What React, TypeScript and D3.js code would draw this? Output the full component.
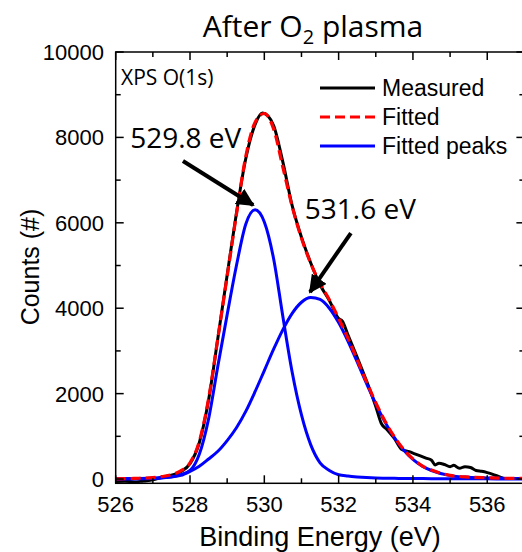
import * as d3 from 'd3';
import { useRef, useEffect } from 'react';

// binding energies (eV) for the fitted curves
const energy = [526, 526.5, 527, 527.25, 527.5, 527.75, 528, 528.25, 528.5, 528.75,
  529, 529.25, 529.5, 529.75, 530, 530.25, 530.5, 530.75, 531, 531.25,
  531.5, 531.75, 532, 532.25, 532.5, 532.75, 533, 533.25, 533.5, 533.75,
  534, 534.25, 534.5, 535, 535.5, 536, 536.5, 537];
const peak1 = [2, 3, 10, 25, 50, 105, 200, 580, 1410, 2650,
  3850, 5000, 5967, 6306, 6020, 5160, 3800, 2500, 1500, 800,
  380, 200, 100, 70, 50, 35, 25, 20, 16, 14,
  12, 10, 9, 6, 5, 4, 3, 3];
const peak2 = [5, 12, 25, 35, 50, 85, 180, 300, 470, 650,
  900, 1200, 1583, 2044, 2540, 3040, 3500, 3880, 4140, 4250,
  4205, 4000, 3663, 3231, 2743, 2240, 1761, 1333, 971, 680,
  460, 300, 200, 80, 40, 25, 15, 10];
const fitted = [5, 15, 35, 60, 100, 190, 380, 880, 1880, 3300,
  4750, 6200, 7550, 8350, 8560, 8200, 7300, 6380, 5640, 5050,
  4585, 4200, 3763, 3301, 2793, 2275, 1786, 1353, 987, 694,
  472, 310, 209, 86, 45, 29, 18, 13];

const measuredEnergy = [526, 526.25, 526.5, 526.75, 527, 527.25, 527.5, 527.75, 528, 528.25,
  528.5, 528.75, 529, 529.25, 529.5, 529.75, 529.95, 530.1, 530.25, 530.5,
  530.75, 531, 531.25, 531.5, 531.75, 532, 532.1, 532.25, 532.5, 532.75,
  532.9, 533, 533.15, 533.3, 533.5, 533.7, 533.9, 534.05, 534.2, 534.35,
  534.5, 534.6, 534.7, 534.85, 535, 535.1, 535.25, 535.4, 535.55, 535.7,
  535.85, 536, 536.15, 536.3, 536.45, 536.6, 537];
const measuredCounts = [-60, -50, -70, -45, -20, 40, 90, 170, 360, 850,
  1850, 3300, 4780, 6230, 7500, 8300, 8570, 8500, 8280, 7420,
  6400, 5660, 5060, 4550, 4180, 3760, 3700, 3380, 2850, 2300,
  1950, 1700, 1300, 1160, 950, 690, 640, 590, 540, 490,
  440, 330, 370, 340, 290, 320, 250, 290, 270, 200,
  180, 150, 110, 60, 15, 10, 10];

const xTicks = [526, 528, 530, 532, 534, 536];
const xMinor = [527, 529, 531, 533, 535, 537];
const yTicks = [0, 2000, 4000, 6000, 8000, 10000];
const yMinor = [1000, 3000, 5000, 7000, 9000];

const legendLabels = ['Measured', 'Fitted', 'Fitted peaks'];

const annotations = [
  { label: '529.8 eV', tx: 526.39, ty: 7752, x1: 527.81, y1: 7447, x2: 529.70, y2: 6417 },
  { label: '531.6 eV', tx: 531.09, ty: 6089, x1: 532.33, y1: 5761, x2: 531.23, y2: 4379 },
];

const App = () => {
  const svgRef = useRef(null);

  useEffect(() => {
    const svg = d3.select(svgRef.current);
    const width = 522;
    const height = 552;
    const left = 115.7, right = 524.4, top = 52, bottom = 483.3;
    svg.attr('width', width).attr('height', height);
    svg.selectAll('*').remove();

    const x = d3.scaleLinear().domain([526, 537]).range([left, right]);
    const y = d3.scaleLinear().domain([-100, 10000]).range([bottom, top]);
    const axisFont = "'Liberation Sans', Arial, sans-serif";
    const calFont = "'Open Sans', sans-serif";

    const line = d3.line().x(d => x(d[0])).y(d => y(d[1])).curve(d3.curveMonotoneX);

    svg.append('path')
      .attr('d', line(measuredEnergy.map((e, i) => [e, measuredCounts[i]])))
      .attr('fill', 'none').attr('stroke', '#000').attr('stroke-width', 3);

    [peak1, peak2].forEach(p => {
      svg.append('path')
        .attr('d', line(energy.map((e, i) => [e, p[i]])))
        .attr('fill', 'none').attr('stroke', '#0000ff').attr('stroke-width', 3);
    });

    svg.append('path')
      .attr('d', line(energy.map((e, i) => [e, fitted[i]])))
      .attr('fill', 'none').attr('stroke', '#ff0000').attr('stroke-width', 3.2)
      .attr('stroke-dasharray', '10 5');

    // frame
    svg.append('rect')
      .attr('x', left).attr('y', top)
      .attr('width', right - left).attr('height', bottom - top)
      .attr('fill', 'none').attr('stroke', '#000').attr('stroke-width', 1.5);

    const tickG = svg.append('g').attr('stroke', '#000').attr('stroke-width', 1.5);
    const addXTicks = (vals, len) => vals.forEach(v => {
      tickG.append('line').attr('x1', x(v)).attr('x2', x(v)).attr('y1', bottom).attr('y2', bottom - len);
      tickG.append('line').attr('x1', x(v)).attr('x2', x(v)).attr('y1', top).attr('y2', top + len);
    });
    const addYTicks = (vals, len) => vals.forEach(v => {
      tickG.append('line').attr('x1', left).attr('x2', left + len).attr('y1', y(v)).attr('y2', y(v));
      tickG.append('line').attr('x1', right).attr('x2', right - len).attr('y1', y(v)).attr('y2', y(v));
    });
    addXTicks(xTicks, 8);
    addXTicks(xMinor, 5);
    addYTicks(yTicks, 8);
    addYTicks(yMinor, 5);

    svg.selectAll('.xlab').data(xTicks).enter().append('text')
      .attr('x', d => x(d)).attr('y', 512)
      .attr('text-anchor', 'middle')
      .style('font-family', axisFont).style('font-size', '22px')
      .text(d => d);

    svg.selectAll('.ylab').data(yTicks).enter().append('text')
      .attr('x', 104).attr('y', d => y(d)).attr('dy', '0.36em')
      .attr('text-anchor', 'end')
      .style('font-family', axisFont).style('font-size', '22px')
      .text(d => d);

    svg.append('text')
      .attr('x', 320).attr('y', 546)
      .attr('text-anchor', 'middle')
      .style('font-family', axisFont).style('font-size', '27px')
      .text('Binding Energy (eV)');

    svg.append('text')
      .attr('transform', 'translate(39,267) rotate(-90)')
      .attr('text-anchor', 'middle')
      .style('font-family', axisFont).style('font-size', '25px')
      .text('Counts (#)');

    const title = svg.append('text')
      .attr('x', 313).attr('y', 37)
      .attr('text-anchor', 'middle')
      .style('font-family', calFont).style('font-size', '30px');
    title.append('tspan').text('After O');
    title.append('tspan').attr('dy', 7).style('font-size', '20px').text('2');
    title.append('tspan').attr('dy', -7).text(' plasma');

    svg.append('text')
      .attr('x', 121).attr('y', 85)
      .style('font-family', calFont).style('font-size', '21px')
      .text('XPS O(1s)');

    // legend
    const legend = svg.append('g');
    const legendStyles = [
      { stroke: '#000', dash: null },
      { stroke: '#ff0000', dash: '10 5' },
      { stroke: '#0000ff', dash: null },
    ];
    legendLabels.forEach((lab, i) => {
      const ly = 88 + i * 29;
      legend.append('line')
        .attr('x1', 320).attr('x2', 375).attr('y1', ly).attr('y2', ly)
        .attr('stroke', legendStyles[i].stroke).attr('stroke-width', 3)
        .attr('stroke-dasharray', legendStyles[i].dash);
      legend.append('text')
        .attr('x', 382).attr('y', ly + 8)
        .style('font-family', axisFont).style('font-size', '23px')
        .text(lab);
    });

    // annotations
    const defs = svg.append('defs');
    defs.append('marker')
      .attr('id', 'arrowhead')
      .attr('viewBox', '0 0 10 10')
      .attr('refX', 9).attr('refY', 5)
      .attr('markerWidth', 4.5).attr('markerHeight', 4.5)
      .attr('orient', 'auto')
      .append('path').attr('d', 'M0,0 L10,5 L0,10 z').attr('fill', '#000');

    annotations.forEach(a => {
      svg.append('text')
        .attr('x', x(a.tx)).attr('y', y(a.ty))
        .style('font-family', calFont).style('font-size', '28px')
        .text(a.label);
      svg.append('line')
        .attr('x1', x(a.x1)).attr('y1', y(a.y1))
        .attr('x2', x(a.x2)).attr('y2', y(a.y2))
        .attr('stroke', '#000').attr('stroke-width', 4)
        .attr('marker-end', 'url(#arrowhead)');
    });
  }, []);

  return (
    <div>
      <svg ref={svgRef} style={{ position: 'absolute', left: 0, top: 0 }}></svg>
    </div>
  );
};

export default App;
